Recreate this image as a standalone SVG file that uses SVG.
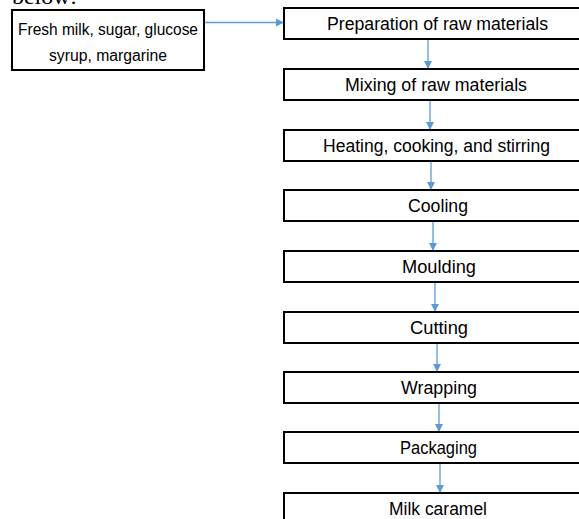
<svg xmlns="http://www.w3.org/2000/svg" width="579" height="519" viewBox="0 0 579 519">
  <style>
    .box { fill: #ffffff; stroke: #000000; stroke-width: 2; }
    .lbl { font-family: "Liberation Sans", Arial, sans-serif; font-size: 17.5px; fill: #000000; text-anchor: middle; }
    .src { font-family: "Liberation Sans", Arial, sans-serif; font-size: 16px; fill: #000000; text-anchor: middle; }
    .conn { stroke: #5B9BD5; stroke-width: 1.3; fill: none; marker-end: url(#ah); }
  </style>
  <defs>
    <marker id="ah" viewBox="0 0 10 10" refX="10" refY="5" markerWidth="9" markerHeight="8" markerUnits="userSpaceOnUse" orient="auto">
      <path d="M0,0 L10,5 L0,10 z" fill="#5B9BD5"/>
    </marker>
  </defs>
  <rect width="579" height="519" fill="#ffffff"/>
  <text x="12" y="4" font-family="Liberation Serif, Times New Roman, serif" font-size="22" textLength="65" lengthAdjust="spacingAndGlyphs">below:</text>

  <g id="connectors">
    <line class="conn" x1="204" y1="22.5" x2="284" y2="22.5"/>
    <line class="conn" x1="428" y1="39" x2="428" y2="69"/>
    <line class="conn" x1="430" y1="100" x2="430" y2="130"/>
    <line class="conn" x1="431" y1="161" x2="431" y2="190"/>
    <line class="conn" x1="433" y1="221" x2="433" y2="251"/>
    <line class="conn" x1="435" y1="282" x2="435" y2="312"/>
    <line class="conn" x1="437" y1="343" x2="437" y2="372"/>
    <line class="conn" x1="439" y1="403" x2="439" y2="432"/>
    <line class="conn" x1="440" y1="463" x2="440" y2="493"/>
  </g>

  <g id="src">
    <rect class="box" x="12" y="10" width="192" height="60"/>
    <text class="src" x="108" y="34.5" textLength="180" lengthAdjust="spacingAndGlyphs">Fresh milk, sugar, glucose</text>
    <text class="src" x="108" y="61" textLength="118" lengthAdjust="spacingAndGlyphs">syrup, margarine</text>
  </g>
  <g id="n1">
    <rect class="box" x="284" y="8" width="310" height="31"/>
    <text class="lbl" x="437.5" y="29.5" textLength="221" lengthAdjust="spacingAndGlyphs">Preparation of raw materials</text>
  </g>
  <g id="n2">
    <rect class="box" x="284" y="69" width="310" height="31"/>
    <text class="lbl" x="436" y="90.5" textLength="182" lengthAdjust="spacingAndGlyphs">Mixing of raw materials</text>
  </g>
  <g id="n3">
    <rect class="box" x="284" y="130" width="310" height="31"/>
    <text class="lbl" x="436.5" y="151.5" textLength="227" lengthAdjust="spacingAndGlyphs">Heating, cooking, and stirring</text>
  </g>
  <g id="n4">
    <rect class="box" x="284" y="190" width="310" height="31"/>
    <text class="lbl" x="438" y="211.5" textLength="60" lengthAdjust="spacingAndGlyphs">Cooling</text>
  </g>
  <g id="n5">
    <rect class="box" x="284" y="251" width="310" height="31"/>
    <text class="lbl" x="439" y="272.5" textLength="74" lengthAdjust="spacingAndGlyphs">Moulding</text>
  </g>
  <g id="n6">
    <rect class="box" x="284" y="312" width="310" height="31"/>
    <text class="lbl" x="439" y="333.5" textLength="58" lengthAdjust="spacingAndGlyphs">Cutting</text>
  </g>
  <g id="n7">
    <rect class="box" x="284" y="372" width="310" height="31"/>
    <text class="lbl" x="439" y="393.5" textLength="76" lengthAdjust="spacingAndGlyphs">Wrapping</text>
  </g>
  <g id="n8">
    <rect class="box" x="284" y="432" width="310" height="31"/>
    <text class="lbl" x="438.5" y="453.5" textLength="77" lengthAdjust="spacingAndGlyphs">Packaging</text>
  </g>
  <g id="n9">
    <rect class="box" x="284" y="493" width="310" height="31"/>
    <text class="lbl" x="438" y="514.5" textLength="98" lengthAdjust="spacingAndGlyphs">Milk caramel</text>
  </g>
</svg>
